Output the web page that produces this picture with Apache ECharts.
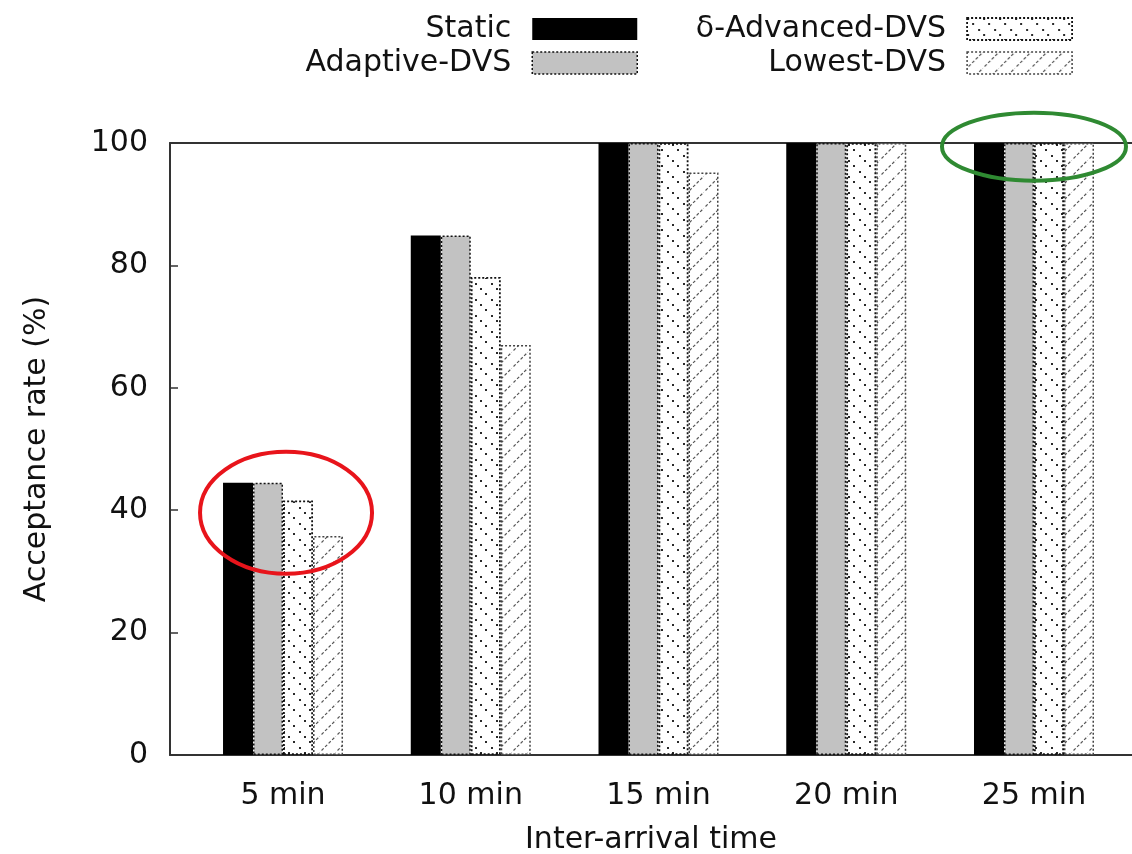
<!DOCTYPE html>
<html>
<head>
<meta charset="utf-8">
<script src="https://cdn.jsdelivr.net/npm/echarts@6/dist/echarts.min.js"></script>
<style>
html,body{margin:0;padding:0;background:#fff;}
#c{width:1132px;height:854px;}
</style>
</head>
<body>
<div id="c"></div>
<script>
const categories = ['5 min', '10 min', '15 min', '20 min', '25 min'];
const seriesNames = ['Static', 'Adaptive-DVS', 'δ-Advanced-DVS', 'Lowest-DVS'];
const staticVals = [44.5, 84.9, 100, 100, 100];
const adaptiveVals = [44.5, 84.9, 100, 100, 100];
const advancedVals = [41.6, 78.1, 100, 100, 100];
const lowestVals = [35.8, 67.0, 95.2, 100, 100];
const yTicks = [0, 20, 40, 60, 80, 100];

const FONT = 'DejaVu Sans';

function dotPattern() {
  const s = 16;
  const c = document.createElement('canvas');
  c.width = s; c.height = s;
  const g = c.getContext('2d');
  g.fillStyle = '#ffffff';
  g.fillRect(0, 0, s, s);
  g.fillStyle = '#2a2a2a';
  for (let k = 0; k < 3; k++) {
    const t = k * s / 3;
    g.fillRect(Math.round(t), Math.round(t), 2, 2);
  }
  return c;
}
function hatchPattern() {
  const s = 16;
  const c = document.createElement('canvas');
  c.width = s; c.height = s;
  const g = c.getContext('2d');
  g.fillStyle = '#ffffff';
  g.fillRect(0, 0, s, s);
  g.strokeStyle = '#555555';
  g.lineWidth = 1.2;
  g.setLineDash([3, 2]);
  g.beginPath();
  g.moveTo(-2, s + 2);
  g.lineTo(s + 2, -2);
  g.stroke();
  return c;
}

function toPairs(arr) { return arr.map((v, i) => [i, v]); }

const chart = echarts.init(document.getElementById('c'), null, {renderer: 'canvas'});

const styles = [
  {color: '#000000', borderColor: '#000', borderWidth: 0},
  {color: '#c2c2c2', borderColor: '#111', borderWidth: 1.5, borderType: [2, 2]},
  {color: {image: dotPattern(), repeat: 'repeat'}, borderColor: '#111', borderWidth: 1.8, borderType: [2, 2]},
  {color: {image: hatchPattern(), repeat: 'repeat'}, borderColor: '#444', borderWidth: 1.5, borderType: [2, 2]}
];
const valueSets = [staticVals, adaptiveVals, advancedVals, lowestVals];

const legendText = {fontFamily: FONT, fontSize: 30, color: '#111', padding: [0, 16, 0, 0]};
function legendItems(idx) {
  return idx.map(i => ({name: seriesNames[i], icon: 'rect', itemStyle: styles[i]}));
}

const option = {
  animation: false,
  backgroundColor: '#ffffff',
  textStyle: {fontFamily: FONT},
  grid: {left: 170, right: 0, top: 143, height: 612, outerBoundsMode: 'none', containLabel: false},
  legend: [
    {
      data: legendItems([0, 1]),
      orient: 'vertical', align: 'right', padding: 0,
      right: 494, top: 14,
      itemWidth: 105, itemHeight: 22, itemGap: 4,
      textStyle: legendText
    },
    {
      data: legendItems([2, 3]),
      orient: 'vertical', align: 'right', padding: 0,
      right: 59, top: 14,
      itemWidth: 105, itemHeight: 22, itemGap: 4,
      textStyle: legendText
    }
  ],
  xAxis: [
    {
      type: 'value', min: -0.602, max: 4.522, position: 'bottom',
      name: 'Inter-arrival time', nameLocation: 'middle', nameGap: 70,
      nameTextStyle: {fontFamily: FONT, fontSize: 30, color: '#111'},
      axisLine: {show: true, onZero: false, lineStyle: {color: '#333', width: 2}},
      axisTick: {show: false},
      splitLine: {show: false},
      axisLabel: {
        customValues: [0, 1, 2, 3, 4],
        margin: 26,
        fontFamily: FONT, fontSize: 30, color: '#111',
        formatter: v => categories[Math.round(v)] || ''
      }
    },
    {
      type: 'value', min: -0.602, max: 4.522, position: 'top',
      axisLine: {show: true, onZero: false, lineStyle: {color: '#333', width: 2}},
      axisTick: {show: false}, axisLabel: {show: false}, splitLine: {show: false}
    }
  ],
  yAxis: {
    type: 'value', min: 0, max: 100, interval: 20,
    name: 'Acceptance rate (%)', nameLocation: 'middle', nameGap: 118,
    nameTextStyle: {fontFamily: FONT, fontSize: 30, color: '#111'},
    axisLine: {show: true, onZero: false, lineStyle: {color: '#333', width: 2}},
    axisTick: {show: true, inside: true, length: 8, lineStyle: {color: '#333', width: 1.5}},
    splitLine: {show: false},
    axisLabel: {
      margin: 22, fontFamily: FONT, fontSize: 30, color: '#111',
      customValues: yTicks
    }
  },
  series: valueSets.map((vals, i) => ({
    type: 'bar',
    name: seriesNames[i],
    barWidth: 30,
    barGap: '0%',
    xAxisIndex: 0,
    yAxisIndex: 0,
    data: toPairs(vals),
    itemStyle: styles[i]
  }))
};
chart.setOption(option);

// annotation ellipses anchored in data space
const redC = chart.convertToPixel({xAxisIndex: 0, yAxisIndex: 0}, [0.016, 39.6]);
const greenC = chart.convertToPixel({xAxisIndex: 0, yAxisIndex: 0}, [4.0, 99.4]);
chart.setOption({
  graphic: [
    {type: 'ellipse', shape: {cx: redC[0], cy: redC[1], rx: 86, ry: 61},
     style: {fill: null, stroke: '#e8141b', lineWidth: 4}, z: 100},
    {type: 'ellipse', shape: {cx: greenC[0], cy: greenC[1], rx: 92, ry: 34},
     style: {fill: null, stroke: '#2f8a32', lineWidth: 4}, z: 100}
  ]
});
</script>
</body>
</html>
